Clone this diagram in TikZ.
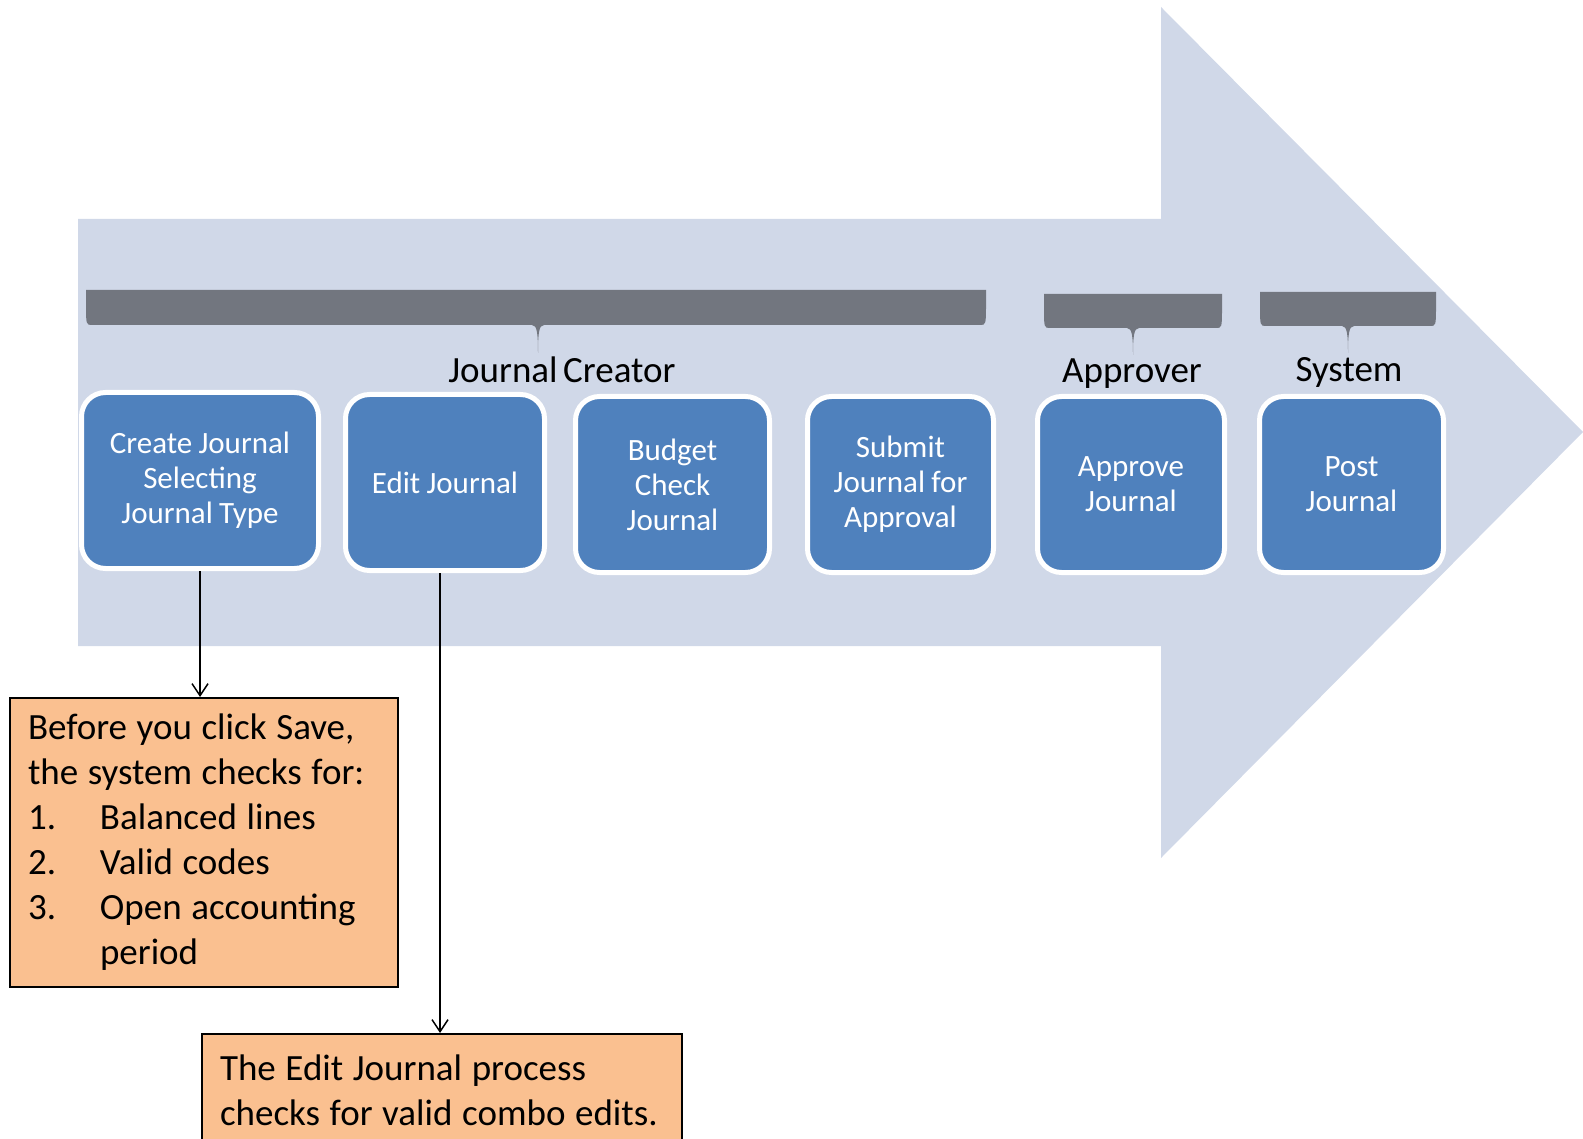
\documentclass[tikz,border=0pt]{standalone}
\usepackage{fontspec}
\setmainfont{Carlito}
\usetikzlibrary{arrows.meta}
\definecolor{arrowbg}{HTML}{D0D8E8}
\definecolor{boxblue}{HTML}{4F81BD}
\definecolor{bracecol}{HTML}{72767F}
\definecolor{notefill}{HTML}{FAC090}
\newcommand{\rolebrace}[6]{%
  \fill[bracecol] (#1,#3) -- (#2,#3) -- (#2,#3+12)
    .. controls (#2,#4) and (#2,#4) .. (#2-6,#4)
    -- (#5+6,#4) .. controls (#5+1,#4) and (#5,#4+8) .. (#5,#6)
    .. controls (#5,#4+8) and (#5-1,#4) .. (#5-6,#4)
    -- (#1+6,#4) .. controls (#1,#4) and (#1,#4) .. (#1,#3+12) -- cycle;}
\newcommand{\tightsp}{\spaceskip=0.26em\relax\xspaceskip=0.26em\relax}
\begin{document}
\begin{tikzpicture}[x=1pt,y=-1pt,
  stepbox/.style={draw=white, line width=5pt, fill=boxblue, rounded corners=24pt,
    text=white, align=center, font={\fontsize{31}{35}\selectfont\spaceskip=0.2em\relax}, inner sep=0pt,
    minimum height=176pt},
  rolelabel/.style={font={\fontsize{37}{40}\selectfont\spaceskip=0.15em\relax}, inner sep=0pt, anchor=base},
  note/.style={draw=black, line width=2pt, fill=notefill, align=left, anchor=north west,
    font={\fontsize{37}{45}\selectfont}, inner ysep=0pt, inner xsep=18pt},
  conn/.style={line width=1.5pt, -{Straight Barb[length=12pt,width=16pt]}}]
\useasboundingbox (0,0) rectangle (1583,1139);
\clip (0,0) rectangle (1583,1139);
% big arrow
\fill[arrowbg] (78,219) -- (1161,219) -- (1161,7) -- (1583,432) -- (1161,858)
  -- (1161,646) -- (78,646) -- cycle;
% braces
\rolebrace{86}{986}{290}{325}{538}{353}
\rolebrace{1044}{1222}{294}{328}{1133}{355}
\rolebrace{1260}{1436}{292}{326}{1348}{353}
% role labels
\node[rolelabel] (jc) at (562,383) {Journal Creator};
\node[rolelabel] (ap) at (1132,383) {Approver};
\node[rolelabel] (sy) at (1349,382) {System};
% step boxes
\node[stepbox, minimum width=237pt] (b1) at (200,480.5) {Create Journal\\Selecting\\Journal Type};
\node[stepbox, minimum width=199pt] (b2) at (445,482.5) {Edit Journal};
\node[stepbox, minimum width=194pt] (b3) at (672.5,484.5) {Budget\\Check\\Journal};
\node[stepbox, minimum width=186pt] (b4) at (900.5,484.5) {Submit\\Journal for\\Approval};
\node[stepbox, minimum width=187pt] (b5) at (1131,484.5) {Approve\\Journal};
\node[stepbox, minimum width=184pt] (b6) at (1351.5,484.5) {Post\\Journal};
% notes
\node[note, text width=352pt, minimum height=289pt] (n1) at (9,697)
  {\tightsp Before you click Save,\\the system checks for:\\
   \makebox[72pt][l]{1.}Balanced lines\\
   \makebox[72pt][l]{2.}Valid codes\\
   \makebox[72pt][l]{3.}Open accounting\\
   \hspace*{72pt}period};
\node[note, text width=444pt, minimum height=112pt] (n2) at (201,1033)
  {\tightsp The Edit Journal process\\\mbox{checks for valid combo edits.}};
% connectors
\draw[conn] (b1.south) -- (b1.south |- n1.north);
\draw[conn] ([xshift=-5pt]b2.south) -- ([xshift=-5pt]b2.south |- n2.north);
\end{tikzpicture}
\end{document}
